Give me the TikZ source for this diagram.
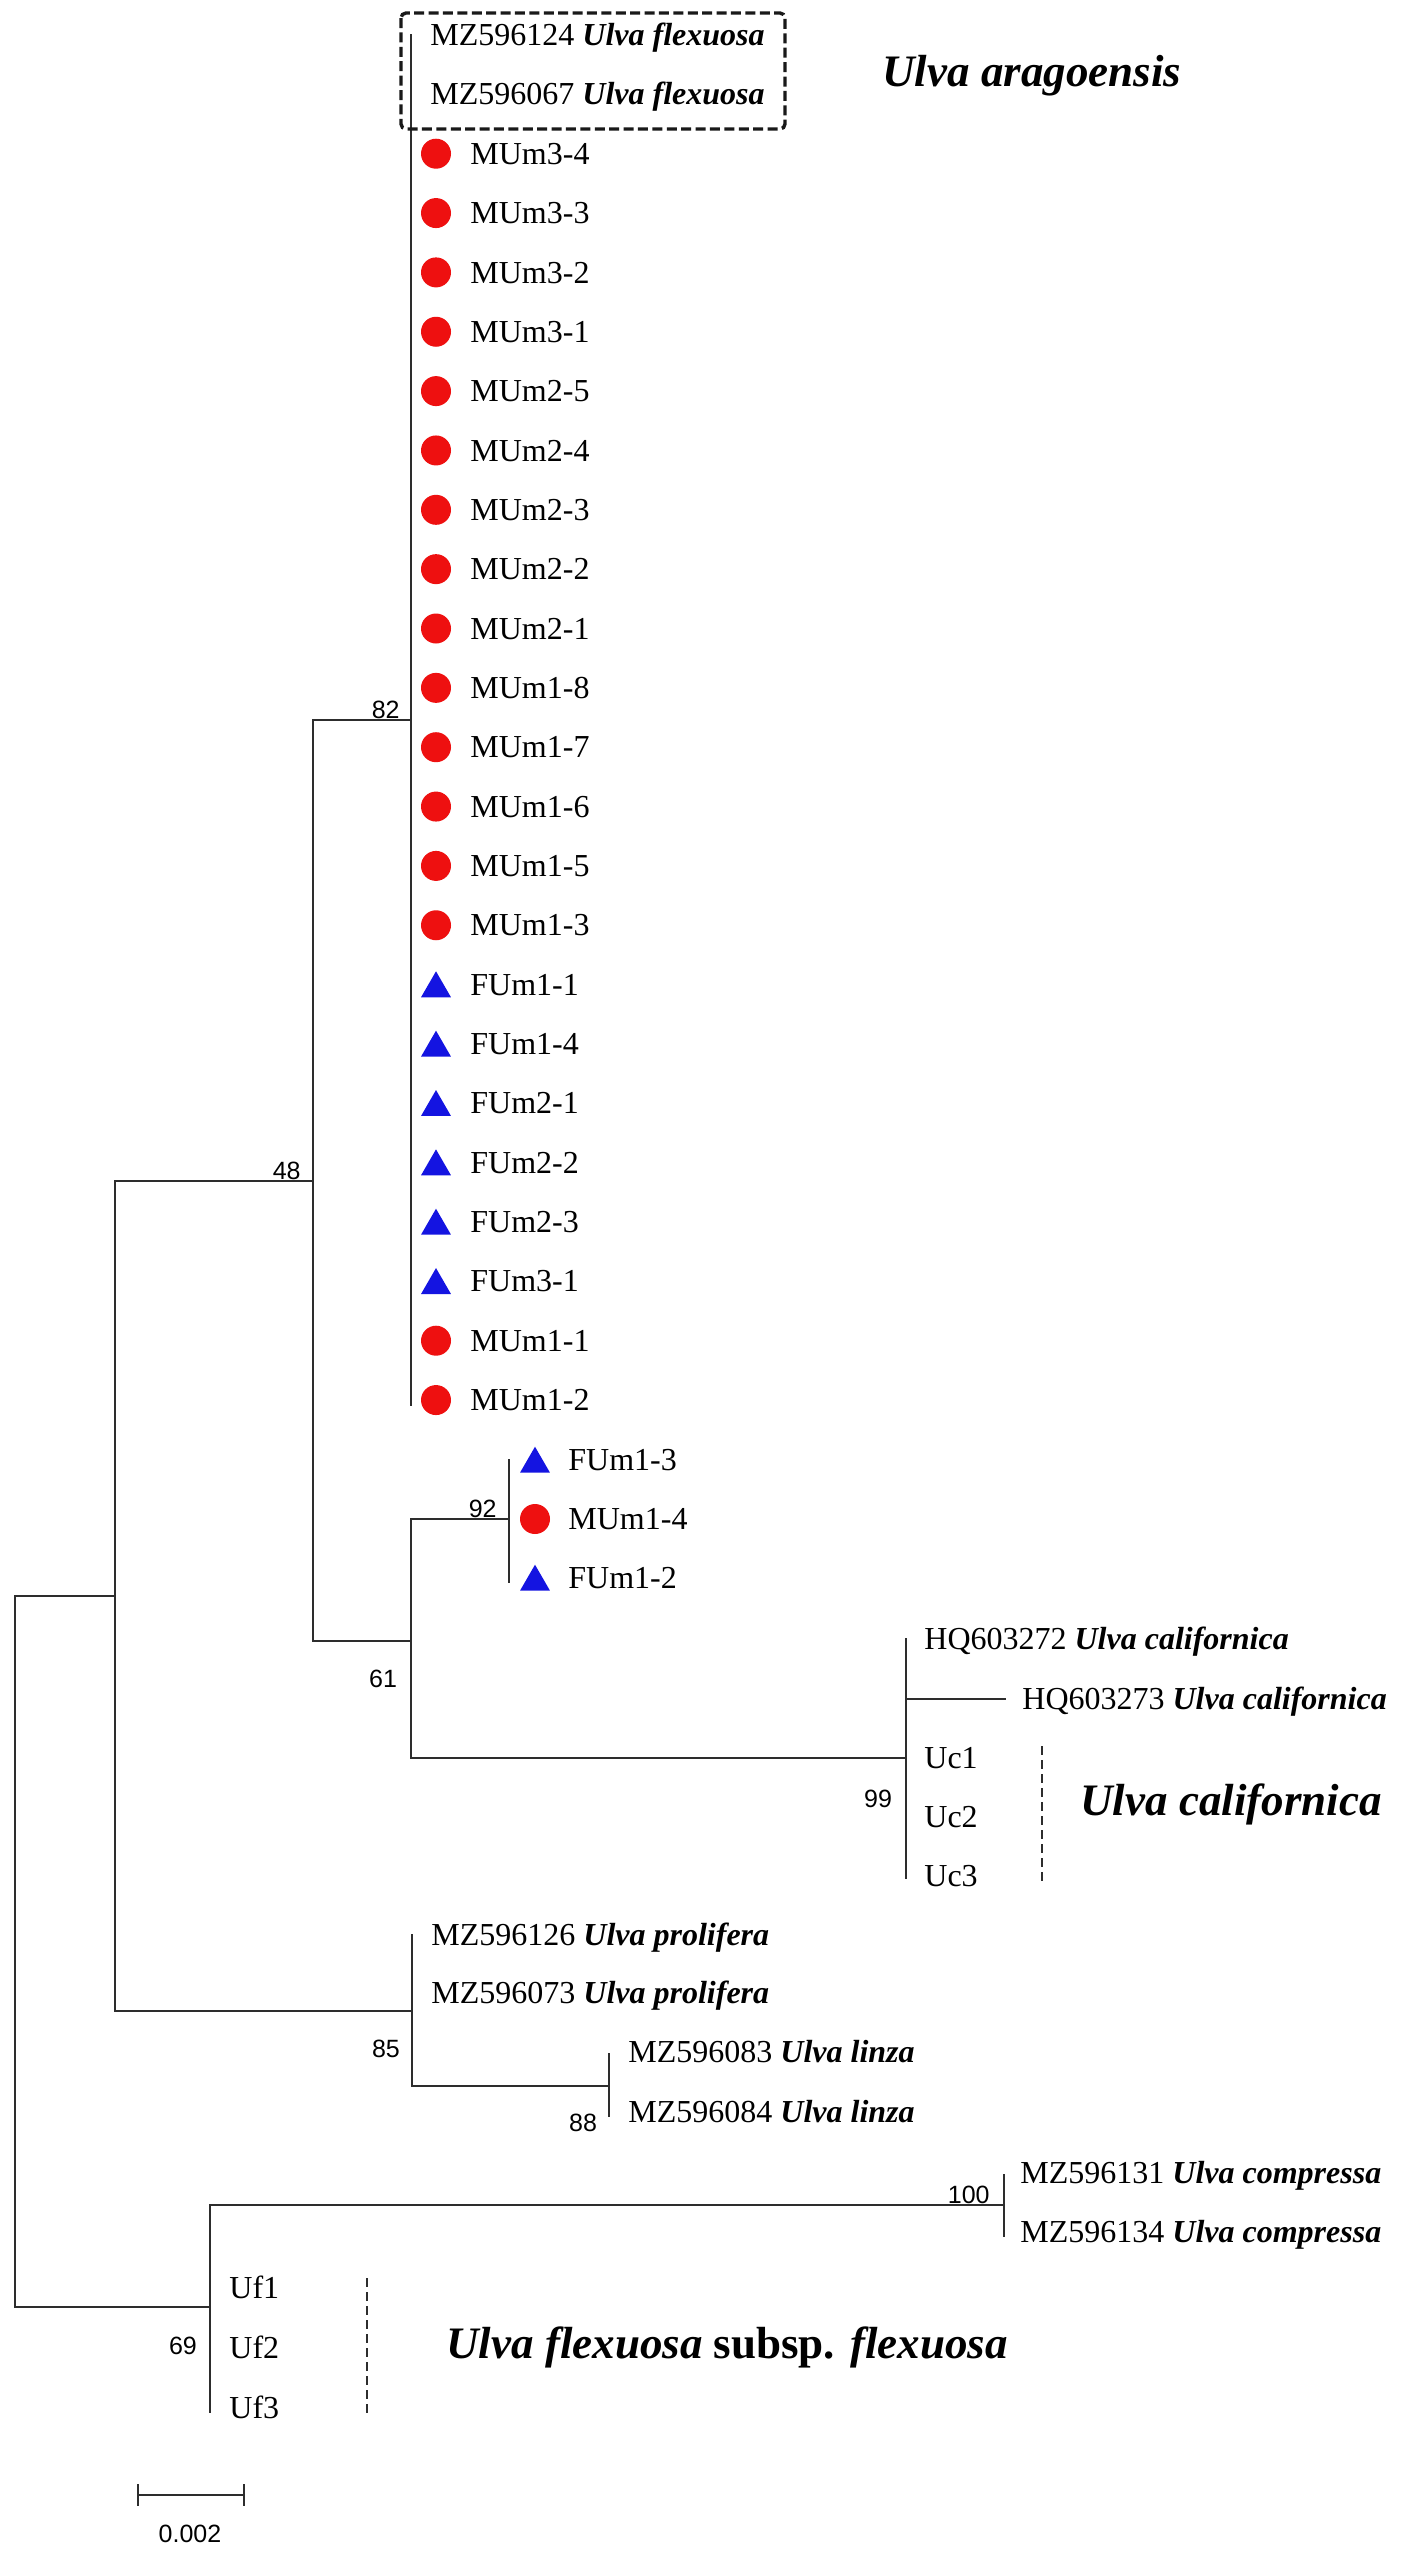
\documentclass[tikz,border=0pt]{standalone}
\usepackage{fontspec}
\setmainfont{Liberation Serif}
\newfontfamily\sansf{Liberation Sans}
\usetikzlibrary{shapes.geometric}
\definecolor{mred}{RGB}{238,16,16}
\definecolor{fblue}{RGB}{20,20,225}
\definecolor{brc}{RGB}{45,45,45}
\newcommand{\spn}[1]{\textbf{\textit{#1}}}
\begin{document}
\begin{tikzpicture}[x=0.5pt,y=-0.5pt,
  br/.style={line width=1.3pt, draw=brc, line cap=rect},
  leaf/.style={anchor=base west, inner sep=0pt, yshift=-5.3pt, font=\fontsize{16}{18}\selectfont},
  boot/.style={inner sep=0pt, font=\sansf\fontsize{12.5}{14}\selectfont},
  big/.style={anchor=base west, inner sep=0pt, yshift=-7.4pt, font=\fontsize{22.5}{26}\selectfont\bfseries\itshape},
  mdot/.style={circle, fill=mred, minimum size=15pt, inner sep=0pt},
  ftri/.style={regular polygon, regular polygon sides=3, fill=fblue, minimum size=17.3pt, inner sep=0pt},
  grp/.style={line width=1pt, draw=brc, dash pattern=on 4.5pt off 2.5pt}
]
\useasboundingbox[fill=white] (0,0) rectangle (1411,2554);

% ---------- internal node coordinates ----------
\coordinate (t82) at (411,35);
\coordinate (b82) at (411,1405);
\coordinate (n82) at (411,720);
\coordinate (n48) at (313,1181);
\coordinate (n61) at (411,1641);
\coordinate (n92) at (509,1519);
\coordinate (t92) at (509,1460);
\coordinate (b92) at (509,1582);
\coordinate (nCal) at (906,1758);
\coordinate (tCal) at (906,1639);
\coordinate (bCal) at (906,1878);
\coordinate (hqb) at (906,1699);
\coordinate (hqe) at (1005,1699);
\coordinate (nA) at (115,1596);
\coordinate (n85) at (412,2011);
\coordinate (t85) at (412,1935);
\coordinate (b85) at (412,2086);
\coordinate (n88) at (609,2086);
\coordinate (t88) at (609,2054);
\coordinate (b88) at (609,2116);
\coordinate (root) at (15,1951);
\coordinate (nUf) at (210,2307);
\coordinate (tUf) at (210,2205);
\coordinate (bUf) at (210,2412);
\coordinate (n100) at (1004,2205);
\coordinate (t100) at (1004,2175);
\coordinate (b100) at (1004,2236);

% ---------- branches ----------
\draw[br] (t82) -- (b82);
\draw[br] (n48) |- (n82);
\draw[br] (n48) |- (n61);
\draw[br] (n61) |- (n92);
\draw[br] (n61) |- (nCal);
\draw[br] (t92) -- (b92);
\draw[br] (tCal) -- (bCal);
\draw[br] (hqb) -- (hqe);
\draw[br] (nA) |- (n48);
\draw[br] (nA) |- (n85);
\draw[br] (t85) -- (b85);
\draw[br] (b85) -- (n88);
\draw[br] (t88) -- (b88);
\draw[br] (root) |- (nA);
\draw[br] (root) |- (nUf);
\draw[br] (nUf) |- (n100);
\draw[br] (nUf) -- (bUf);
\draw[br] (t100) -- (b100);

% ---------- dashed box ----------
\draw[line width=1.7pt, draw=black!90, dash pattern=on 5pt off 2.2pt, rounded corners=2.5pt]
  (401,13) rectangle (785,129);

% ---------- main clade leaves ----------
\node[leaf] (l0) at (430,35) {MZ596124 \spn{Ulva flexuosa}};
\node[leaf] (l1) at (430,94.35) {MZ596067 \spn{Ulva flexuosa}};
\foreach \lab [count=\i from 2] in {MUm3-4,MUm3-3,MUm3-2,MUm3-1,MUm2-5,MUm2-4,MUm2-3,MUm2-2,MUm2-1,MUm1-8,MUm1-7,MUm1-6,MUm1-5,MUm1-3}{
  \pgfmathsetmacro\yy{35+\i*59.35}
  \node[mdot] (d\i) at (436,\yy) {};
  \node[leaf] (l\i) at (470,\yy) {\lab};
}
\foreach \lab [count=\i from 16] in {FUm1-1,FUm1-4,FUm2-1,FUm2-2,FUm2-3,FUm3-1}{
  \pgfmathsetmacro\yy{35+\i*59.35}
  \node[ftri] (d\i) at (436,\yy+4) {};
  \node[leaf] (l\i) at (470,\yy) {\lab};
}
\foreach \lab [count=\i from 22] in {MUm1-1,MUm1-2}{
  \pgfmathsetmacro\yy{35+\i*59.35}
  \node[mdot] (d\i) at (436,\yy) {};
  \node[leaf] (l\i) at (470,\yy) {\lab};
}

% ---------- clade 92 ----------
\node[ftri] (e1) at (535,1464) {};
\node[leaf] (k1) at (568,1460) {FUm1-3};
\node[mdot] (e2) at (535,1519) {};
\node[leaf] (k2) at (568,1519) {MUm1-4};
\node[ftri] (e3) at (535,1582) {};
\node[leaf] (k3) at (568,1578) {FUm1-2};

% ---------- californica ----------
\node[leaf] (hq2) at (924,1639) {HQ603272 \spn{Ulva californica}};
\node[leaf] (hq3) at (1022,1699) {HQ603273 \spn{Ulva californica}};
\node[leaf] (uc1) at (924,1758) {Uc1};
\node[leaf] (uc2) at (924,1817) {Uc2};
\node[leaf] (uc3) at (924,1876) {Uc3};
\draw[grp] (1042,1746) -- (1042,1884);
\node[big] (cal) at (1080,1801) {Ulva californica};

% ---------- prolifera / linza ----------
\node[leaf] (pr1) at (431,1935) {MZ596126 \spn{Ulva prolifera}};
\node[leaf] (pr2) at (431,1993) {MZ596073 \spn{Ulva prolifera}};
\node[leaf] (li1) at (628,2052) {MZ596083 \spn{Ulva linza}};
\node[leaf] (li2) at (628,2112) {MZ596084 \spn{Ulva linza}};

% ---------- compressa ----------
\node[leaf] (co1) at (1020,2173) {MZ596131 \spn{Ulva compressa}};
\node[leaf] (co2) at (1020,2232) {MZ596134 \spn{Ulva compressa}};

% ---------- flexuosa ----------
\node[leaf] (uf1) at (229,2288) {Uf1};
\node[leaf] (uf2) at (229,2348) {Uf2};
\node[leaf] (uf3) at (229,2408) {Uf3};
\draw[grp] (367,2278) -- (367,2415);
\node[big] (flx) at (446,2344) {Ulva flexuosa \upshape subsp. \itshape flexuosa};

% ---------- big label ----------
\node[big] (ara) at (882,72) {Ulva aragoensis};

% ---------- bootstrap values ----------
\node[boot, anchor=base east] (bs82) at (400,718) {82};
\node[boot, anchor=base east] (bs48) at (301,1179) {48};
\node[boot, anchor=base east] (bs92) at (497,1517) {92};
\node[boot] (bs61) at (383,1679) {61};
\node[boot] (bs99) at (878,1799) {99};
\node[boot] (bs85) at (386,2049) {85};
\node[boot] (bs88) at (583,2123) {88};
\node[boot, anchor=base east] (bs100) at (990,2203) {100};
\node[boot] (bs69) at (183,2346) {69};

% ---------- scale bar ----------
\coordinate (sb1) at (138,2495);
\coordinate (sb2) at (244,2495);
\draw[br] (sb1) -- (sb2);
\draw[br] ([yshift=5pt]sb1) -- ([yshift=-5pt]sb1);
\draw[br] ([yshift=5pt]sb2) -- ([yshift=-5pt]sb2);
\node[boot] (sbl) at (190,2534) {0.002};
\end{tikzpicture}
\end{document}
